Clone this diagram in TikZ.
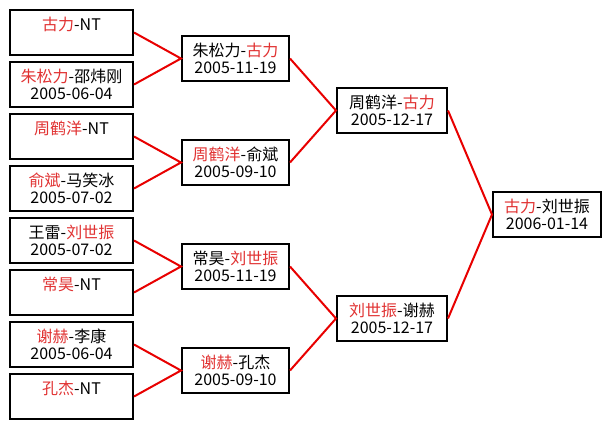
\documentclass[tikz,border=0pt]{standalone}
\usepackage{fontspec}
\setmainfont{Noto Sans CJK SC}
\usepackage{xcolor}
\usepackage{tikz}
\definecolor{winred}{RGB}{225,50,50}
\definecolor{linkred}{RGB}{232,0,0}
\newcommand{\win}[1]{\textcolor{winred}{#1}}

\begin{document}
\begin{tikzpicture}[x=1pt,y=-1pt,
  game/.style={draw=black, line width=2pt, fill=white, inner sep=0pt, align=center,
    font=\fontsize{16}{17}\selectfont, minimum height=45pt},
  link/.style={draw=linkred, line width=2pt}]

% --- Bracket: four rounds ---

\def\ra{71.5}  % round 1 x
\def\rb{235.5} % round 2 x
\def\rc{392}   % round 3 x
\def\rd{547}   % final x

\useasboundingbox[fill=white] (0,0) rectangle (611,429);

% Round 1
\node[game, minimum width=123pt] (r1a) at (\ra,32.5) {\win{古力}-NT\\~};
\node[game, minimum width=123pt] (r1b) at (\ra,84.5) {\win{朱松力}-邵炜刚\\2005-06-04};
\node[game, minimum width=123pt] (r1c) at (\ra,136.5) {\win{周鹤洋}-NT\\~};
\node[game, minimum width=123pt] (r1d) at (\ra,188.5) {\win{俞斌}-马笑冰\\2005-07-02};
\node[game, minimum width=123pt] (r1e) at (\ra,240.5) {王雷-\win{刘世振}\\2005-07-02};
\node[game, minimum width=123pt] (r1f) at (\ra,292.5) {\win{常昊}-NT\\~};
\node[game, minimum width=123pt] (r1g) at (\ra,344.5) {\win{谢赫}-李康\\2005-06-04};
\node[game, minimum width=123pt] (r1h) at (\ra,396.5) {\win{孔杰}-NT\\~};

% Round 2
\node[game, minimum width=107pt] (r2a) at (\rb,58.5) {朱松力-\win{古力}\\2005-11-19};
\node[game, minimum width=107pt] (r2b) at (\rb,162.5) {\win{周鹤洋}-俞斌\\2005-09-10};
\node[game, minimum width=107pt] (r2c) at (\rb,266.5) {常昊-\win{刘世振}\\2005-11-19};
\node[game, minimum width=107pt] (r2d) at (\rb,370.5) {\win{谢赫}-孔杰\\2005-09-10};

% Semifinals
\node[game, minimum width=110pt] (r3a) at (\rc,110.5) {周鹤洋-\win{古力}\\2005-12-17};
\node[game, minimum width=110pt] (r3b) at (\rc,318.5) {\win{刘世振}-谢赫\\2005-12-17};

% Final
\node[game, minimum width=108pt] (fin) at (\rd,214.5) {\win{古力}-刘世振\\2006-01-14};

% Links
\draw[link] (r1a.east) -- (r2a.west) -- (r1b.east);
\draw[link] (r1c.east) -- (r2b.west) -- (r1d.east);
\draw[link] (r1e.east) -- (r2c.west) -- (r1f.east);
\draw[link] (r1g.east) -- (r2d.west) -- (r1h.east);
\draw[link] (r2a.east) -- (r3a.west) -- (r2b.east);
\draw[link] (r2c.east) -- (r3b.west) -- (r2d.east);
\draw[link] (r3a.east) -- (fin.west) -- (r3b.east);

\end{tikzpicture}
\end{document}
